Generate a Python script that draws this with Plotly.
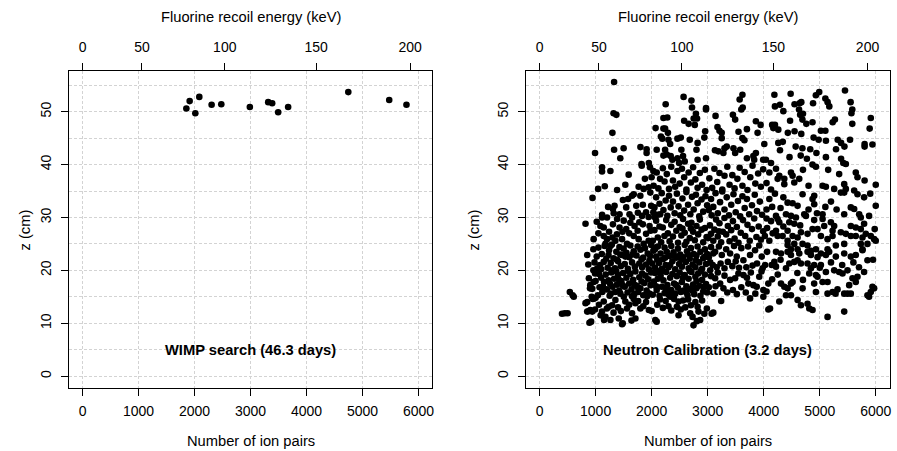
import plotly.graph_objects as go

# ---------------- data ----------------
# WIMP search candidate events (ion pairs, z cm)
wimp_ion_pairs = [1854, 1913, 2014, 2085, 2305, 2478, 2988, 3316, 3387, 3494, 3672, 4747, 5478, 5786]
wimp_z = [50.6, 52.0, 49.7, 52.8, 51.3, 51.4, 50.9, 51.8, 51.6, 49.9, 50.9, 53.7, 52.2, 51.3]

# Neutron calibration events, grouped by ion-pair range: (ion pairs, z cm)
calib_below_1000 = [
    (400, 11.8), (450, 11.9), (500, 11.9), (540, 15.9), (590, 15.3), (610, 15.0), (820, 13.8), (850, 14.0),
    (850, 12.2), (880, 12.3), (905, 12.5), (890, 10.1), (920, 10.3), (940, 12.2), (950, 14.6), (975, 14.7),
    (1000, 14.8), (930, 15.0), (990, 12.6), (905, 17.2), (965, 17.8), (880, 18.5), (900, 16.6), (940, 16.5),
    (990, 19.4), (960, 20.0), (870, 21.1), (850, 22.9), (980, 21.5), (960, 24.0), (820, 28.8), (965, 25.9),
    (945, 33.7), (990, 42.2), (1030, 20.4), (1000, 18.0),
]
calib_1000_2000 = [
    (1115, 12.2), (1175, 11.2), (1264, 10.6), (1413, 10.9), (1472, 9.8), (1234, 13.1), (1294, 13.4), (1353, 14.4),
    (1145, 14.1), (1531, 14.1), (1710, 13.8), (1798, 12.8), (1650, 11.9), (1710, 10.9), (1640, 10.5), (1060, 13.5),
    (1090, 11.5), (1200, 12.8), (1320, 12.0), (1400, 13.0), (1450, 12.3), (1560, 12.8), (1600, 13.5), (1680, 14.6),
    (1760, 14.2), (1850, 13.2), (1900, 14.0), (1950, 12.5), (1104, 11.5), (1151, 10.6), (1484, 10.0),
    (1040, 15.3), (1070, 16.8), (1100, 18.6), (1120, 15.9), (1150, 17.8), (1180, 19.2), (1200, 16.4), (1230, 18.1),
    (1250, 15.2), (1280, 19.6), (1300, 16.9), (1330, 18.4), (1350, 15.9), (1380, 17.3), (1400, 19.1), (1420, 16.2),
    (1442, 15.6), (1460, 18.0), (1490, 19.5), (1502, 15.0), (1520, 16.9), (1550, 18.6), (1570, 15.8), (1600, 17.5),
    (1620, 19.3), (1640, 16.4), (1670, 18.2), (1690, 15.5), (1710, 19.8), (1730, 17.1), (1760, 15.9), (1780, 18.7),
    (1800, 16.6), (1830, 19.4), (1850, 15.3), (1870, 17.6), (1890, 19.0), (1910, 16.2), (1940, 18.3), (1960, 15.6),
    (1980, 17.2), (1990, 19.6), (1060, 19.3), (1130, 16.9), (1260, 17.4), (1370, 19.8), (1480, 17.2), (1580, 19.9),
    (1650, 15.1), (1750, 16.8), (1820, 17.9), (1920, 15.1), (1270, 15.6), (1700, 17.2), (1410, 18.3),
    (1020, 22.6), (1050, 24.3), (1080, 21.0), (1110, 23.1), (1145, 21.6), (1160, 24.6), (1190, 22.2), (1215, 20.5),
    (1240, 23.8), (1270, 21.4), (1290, 24.9), (1320, 22.3), (1345, 20.4), (1370, 23.5), (1400, 21.7), (1425, 24.4),
    (1450, 20.8), (1470, 22.9), (1500, 24.1), (1520, 21.2), (1550, 23.3), (1575, 20.3), (1600, 22.5), (1620, 24.7),
    (1650, 21.5), (1680, 23.6), (1700, 20.7), (1730, 22.8), (1750, 24.5), (1780, 21.3), (1800, 23.9), (1830, 20.6),
    (1850, 22.4), (1880, 24.2), (1900, 21.1), (1930, 23.2), (1950, 20.2), (1975, 22.7), (1990, 24.8), (1100, 20.2),
    (1230, 22.9), (1380, 22.0), (1530, 22.6), (1660, 23.0), (1820, 22.1), (1960, 21.8), (1300, 20.0), (1440, 23.0),
    (1145, 26.5), (1204, 25.9), (1175, 25.0), (1264, 24.6), (1353, 25.6), (1472, 25.9), (1561, 25.0), (1680, 26.5),
    (1768, 25.9), (1857, 25.0), (1946, 25.6), (1086, 28.4), (1145, 28.1), (1309, 28.7), (1427, 28.1), (1546, 27.8),
    (1695, 28.4), (1843, 28.7), (1962, 28.4), (1115, 30.0), (1204, 30.0), (1383, 29.7), (1502, 29.4), (1650, 30.0),
    (1828, 30.3), (1946, 30.1), (1050, 27.0), (1240, 27.3), (1380, 26.8), (1600, 27.0), (1750, 27.5), (1900, 26.9),
    (1480, 27.3), (1300, 26.2), (1020, 29.2), (1620, 29.0), (1780, 29.1), (1980, 27.5),
    (1427, 30.6), (1605, 30.6), (1754, 30.9), (1309, 31.6), (1338, 32.2), (1487, 33.3), (1546, 31.9), (1725, 32.2),
    (1843, 32.4), (1991, 32.2), (1650, 34.1), (1680, 34.4), (1798, 34.1), (1976, 34.7), (1116, 30.5), (1223, 32.0),
    (1323, 30.8), (1900, 31.0), (1580, 33.5),
    (1045, 35.4), (1164, 35.9), (1383, 35.2), (1530, 36.2), (1768, 35.8), (1857, 35.4), (1946, 35.7), (1115, 39.5),
    (1115, 38.7), (1264, 38.8), (1590, 38.1), (1823, 39.8), (1970, 39.5), (1880, 37.3), (1999, 37.6),
    (1330, 42.8), (1500, 43.1), (1440, 41.2), (1800, 43.3), (1910, 42.9), (1910, 42.2), (1820, 40.1), (1950, 40.3),
    (1300, 46.0), (1320, 49.7), (1370, 49.4), (1330, 55.6),
]
calib_2000_3000 = [
    (2065, 10.6), (2090, 10.3), (2000, 12.3), (2332, 15.0), (2480, 14.1), (2480, 11.5), (2688, 11.9), (2836, 12.2),
    (2866, 10.6), (2747, 9.6), (2807, 10.4), (2985, 12.8), (2100, 13.5), (2150, 14.5), (2200, 12.9), (2250, 14.2),
    (2300, 13.2), (2350, 12.4), (2400, 14.6), (2450, 13.1), (2520, 12.6), (2560, 14.3), (2600, 13.0), (2650, 14.5),
    (2700, 13.4), (2730, 11.2), (2780, 14.0), (2820, 13.1), (2900, 14.3), (2940, 11.8),
    (2020, 15.4), (2040, 17.9), (2060, 19.5), (2090, 16.3), (2110, 18.4), (2140, 15.2), (2160, 19.0), (2180, 16.9),
    (2210, 18.1), (2230, 15.7), (2260, 19.7), (2280, 17.2), (2300, 15.4), (2330, 18.6), (2350, 16.3), (2370, 19.3),
    (2400, 17.5), (2420, 15.6), (2450, 18.9), (2470, 16.7), (2500, 19.6), (2520, 15.9), (2540, 17.8), (2570, 16.2),
    (2590, 19.1), (2620, 17.0), (2640, 15.3), (2660, 18.4), (2690, 16.5), (2710, 19.7), (2740, 17.3), (2760, 15.5),
    (2780, 18.8), (2800, 16.6), (2830, 19.4), (2850, 17.1), (2870, 15.2), (2900, 18.2), (2920, 16.0), (2950, 19.2),
    (2970, 17.4), (2990, 15.8), (2080, 17.0), (2200, 19.9), (2320, 16.0), (2440, 17.2), (2560, 18.6), (2680, 19.9),
    (2800, 18.0), (2930, 16.9), (2130, 19.8), (2250, 16.6), (2390, 15.1), (2610, 15.9), (2720, 16.2), (2880, 19.9),
    (2010, 21.3), (2030, 23.7), (2060, 20.5), (2080, 22.6), (2110, 24.5), (2130, 21.4), (2160, 23.2), (2180, 20.3),
    (2200, 22.1), (2230, 24.3), (2250, 21.0), (2270, 23.5), (2300, 20.6), (2320, 22.7), (2350, 24.6), (2370, 21.7),
    (2390, 23.4), (2420, 20.2), (2440, 22.4), (2470, 24.1), (2490, 21.2), (2510, 23.0), (2540, 20.7), (2560, 22.5),
    (2590, 24.8), (2610, 21.6), (2630, 23.6), (2660, 20.4), (2680, 22.2), (2700, 24.2), (2730, 21.1), (2750, 23.1),
    (2780, 20.6), (2800, 22.8), (2820, 24.5), (2850, 21.5), (2870, 23.5), (2900, 20.3), (2920, 22.3), (2950, 24.0),
    (2970, 21.2), (2990, 23.1), (2100, 22.0), (2240, 22.4), (2400, 22.8), (2530, 22.0), (2650, 23.0), (2790, 21.9),
    (2940, 22.5), (2060, 24.0), (2330, 21.0),
    (2020, 25.6), (2050, 27.6), (2080, 29.4), (2110, 26.2), (2140, 28.3), (2170, 25.3), (2199, 28.1), (2228, 26.5),
    (2260, 29.5), (2290, 27.0), (2320, 25.5), (2350, 28.6), (2380, 26.4), (2410, 29.2), (2440, 27.5), (2470, 25.2),
    (2500, 28.2), (2530, 26.6), (2560, 29.7), (2590, 27.1), (2620, 25.4), (2650, 28.8), (2680, 26.1), (2710, 29.0),
    (2740, 27.3), (2770, 25.7), (2800, 28.4), (2830, 26.8), (2860, 29.6), (2890, 27.7), (2920, 25.3), (2950, 28.0),
    (2980, 26.3), (2065, 24.3), (2153, 30.6), (2050, 30.1), (2550, 27.9), (2700, 27.9),
    (2030, 31.0), (2050, 31.9), (2080, 33.8), (2110, 30.5), (2140, 32.6), (2180, 34.6), (2210, 31.4), (2250, 33.2),
    (2280, 30.3), (2310, 34.1), (2340, 31.9), (2380, 33.0), (2410, 30.8), (2450, 34.5), (2480, 32.1), (2510, 30.4),
    (2550, 33.6), (2580, 31.3), (2620, 34.8), (2650, 32.4), (2690, 30.6), (2720, 33.9), (2750, 31.5), (2790, 34.3),
    (2820, 32.7), (2850, 30.2), (2890, 33.4), (2920, 31.1), (2960, 34.0), (2990, 32.3),
    (2035, 36.0), (2030, 38.8), (2090, 38.5), (2150, 37.3), (2120, 35.5), (2200, 39.3), (2230, 36.8), (2270, 38.2),
    (2310, 35.4), (2350, 39.6), (2380, 37.0), (2420, 35.8), (2460, 38.8), (2500, 36.4), (2540, 39.2), (2580, 37.6),
    (2620, 35.3), (2660, 38.5), (2700, 36.6), (2740, 39.5), (2780, 37.2), (2820, 35.6), (2860, 38.4), (2900, 36.2),
    (2950, 39.0), (2980, 35.2),
    (2090, 42.8), (2210, 41.7), (2240, 42.8), (2270, 41.9), (2340, 41.6), (2370, 40.9), (2460, 41.2), (2490, 40.3),
    (2530, 42.8), (2560, 41.6), (2590, 40.6), (2800, 42.8), (2820, 40.9), (2970, 41.2), (2300, 44.7), (2330, 43.9),
    (2460, 44.9), (2520, 45.1), (2680, 44.7), (2820, 44.1), (2940, 45.1), (2165, 45.3), (2190, 44.9),
    (2210, 48.8), (2070, 46.9), (2210, 46.8), (2280, 48.9), (2580, 48.3), (2660, 47.7), (2770, 47.5), (2790, 49.6),
    (2750, 48.7), (2810, 48.7), (2240, 46.8), (2290, 46.0), (2955, 46.3),
    (2250, 51.4), (2570, 52.8), (2710, 52.1), (2720, 50.8), (2970, 50.4), (2970, 50.7),
]
calib_3000_4000 = [
    (3070, 11.8), (3100, 12.0), (3240, 14.2), (3756, 14.7), (3993, 15.0),
    (3133, 18.5), (3222, 17.5), (3281, 16.6), (3400, 18.2), (3489, 18.5), (3548, 19.4), (3637, 19.1), (3726, 17.5),
    (3815, 17.2), (3875, 16.9), (3993, 16.3), (3020, 16.8), (3060, 18.9), (3100, 15.6), (3180, 19.6), (3300, 19.0),
    (3350, 15.8), (3450, 16.3), (3520, 15.5), (3600, 16.8), (3680, 15.8), (3700, 18.6), (3770, 19.6), (3850, 15.6),
    (3920, 18.8), (3960, 19.8), (3140, 17.0),
    (3133, 23.5), (3252, 22.9), (3400, 23.2), (3519, 22.6), (3637, 21.9), (3756, 22.9), (3845, 23.8), (3964, 22.6),
    (3044, 20.0), (3044, 21.5), (3020, 22.5), (3060, 24.4), (3090, 21.0), (3160, 20.6), (3200, 24.5), (3230, 21.3),
    (3300, 20.4), (3330, 24.0), (3360, 21.6), (3440, 20.8), (3470, 24.6), (3560, 20.5), (3600, 24.2), (3690, 20.6),
    (3720, 24.5), (3800, 20.9), (3880, 21.3), (3920, 24.7), (3980, 20.4), (3100, 23.2), (3500, 21.7),
    (3010, 26.1), (3040, 28.5), (3070, 30.4), (3100, 25.6), (3120, 27.7), (3150, 29.6), (3180, 26.4), (3210, 28.9),
    (3240, 25.3), (3270, 27.3), (3300, 29.9), (3330, 26.8), (3360, 28.4), (3390, 25.5), (3420, 27.6), (3450, 29.3),
    (3480, 26.0), (3520, 28.2), (3550, 25.2), (3590, 27.1), (3630, 29.5), (3670, 26.5), (3710, 28.6), (3750, 25.6),
    (3790, 27.8), (3830, 29.8), (3870, 26.3), (3910, 28.3), (3950, 25.8), (3990, 27.4), (3060, 26.9), (3200, 27.4),
    (3020, 31.4), (3060, 33.5), (3100, 32.0), (3140, 34.6), (3180, 30.8), (3220, 32.9), (3260, 34.9), (3300, 31.5),
    (3340, 33.8), (3380, 30.4), (3420, 32.4), (3460, 34.4), (3500, 31.0), (3540, 33.1), (3580, 30.2), (3620, 34.0),
    (3660, 31.8), (3700, 33.5), (3740, 30.6), (3790, 32.3), (3840, 34.3), (3880, 31.2), (3930, 33.0), (3970, 30.5),
    (3030, 37.4), (3080, 35.6), (3120, 39.2), (3170, 36.7), (3210, 38.4), (3260, 35.3), (3300, 37.9), (3350, 39.6),
    (3390, 36.2), (3440, 38.0), (3480, 35.5), (3530, 37.3), (3570, 39.4), (3620, 36.0), (3660, 38.6), (3710, 35.2),
    (3760, 37.6), (3800, 39.8), (3850, 36.4), (3900, 38.3), (3950, 35.8), (3990, 39.1),
    (3130, 42.7), (3190, 42.5), (3300, 43.1), (3280, 42.2), (3340, 43.4), (3460, 43.1), (3490, 42.2), (3580, 42.8),
    (3700, 41.2), (3815, 41.6), (3990, 40.9), (3860, 42.2), (3830, 40.9), (3620, 45.0), (3655, 44.6), (3250, 45.0),
    (3140, 49.2), (3175, 47.1), (3210, 46.4), (3250, 46.0), (3450, 49.4), (3490, 48.5), (3550, 46.2), (3700, 46.7),
    (3860, 48.2), (3945, 47.5), (3890, 46.0),
    (3620, 53.2), (3570, 52.3), (3625, 50.8), (3600, 50.4),
]
calib_4000_5000 = [
    (4278, 14.1), (4397, 15.3), (4486, 15.3), (4604, 14.4), (4664, 13.4), (4782, 13.7), (4871, 12.5), (4083, 12.6),
    (4112, 12.8), (4813, 12.8),
    (4308, 17.5), (4367, 16.9), (4426, 16.6), (4486, 17.5), (4515, 17.8), (4693, 16.6), (4931, 15.9), (4812, 19.4),
    (4931, 19.1), (4960, 18.8), (4082, 17.5), (4150, 18.3), (4250, 19.2), (4600, 19.5), (4700, 18.2), (4050, 16.0),
    (4900, 17.5),
    (4219, 23.5), (4308, 23.2), (4426, 23.5), (4486, 22.9), (4634, 23.2), (4782, 23.5), (4842, 22.9), (4189, 21.6),
    (4219, 20.7), (4397, 20.4), (4456, 21.3), (4545, 21.6), (4604, 21.9), (4664, 21.3), (4782, 21.3), (4023, 21.0),
    (4142, 21.0), (4426, 24.8), (4545, 25.0), (4604, 24.0), (4486, 24.0), (4693, 25.0), (4782, 24.7), (4842, 23.7),
    (4931, 24.0), (4300, 22.0), (4060, 23.5), (4900, 21.0), (4960, 22.5), (4842, 20.4),
    (4219, 27.5), (4248, 26.5), (4337, 26.5), (4426, 27.5), (4515, 26.5), (4604, 26.2), (4664, 27.2), (4782, 26.9),
    (4871, 27.8), (4960, 27.8), (4426, 25.6), (4219, 30.3), (4248, 29.7), (4278, 29.1), (4397, 30.6), (4486, 30.3),
    (4575, 30.0), (4723, 30.6), (4753, 30.3), (4456, 29.1), (4545, 28.8), (4020, 26.5), (4060, 28.0), (4100, 25.6),
    (4130, 29.3), (4160, 27.0), (4050, 29.8), (4900, 29.5), (4650, 28.5), (4350, 28.3),
    (4693, 34.4), (4901, 34.1), (4871, 33.5), (4901, 32.5), (4426, 32.8), (4515, 32.7), (4604, 32.2), (4050, 31.5),
    (4100, 33.5), (4150, 32.0), (4200, 34.5), (4300, 31.8), (4350, 33.8), (4800, 31.5), (4950, 30.8),
    (4219, 39.2), (4278, 37.9), (4248, 37.3), (4367, 37.3), (4367, 36.3), (4486, 38.5), (4515, 37.9), (4545, 36.6),
    (4634, 37.3), (4931, 39.6), (4050, 36.5), (4100, 38.5), (4130, 35.3), (4800, 36.0), (4700, 39.0),
    (4010, 43.9), (4040, 40.9), (4130, 40.3), (4340, 44.3), (4260, 44.1), (4290, 42.7), (4570, 43.4), (4690, 43.1),
    (4830, 42.9), (4940, 42.2), (4460, 41.4), (4660, 41.7), (4770, 41.1), (4870, 40.0), (4980, 44.7), (4890, 45.1),
    (4150, 47.5), (4170, 46.9), (4200, 47.5), (4260, 46.6), (4650, 49.4), (4690, 48.5), (4760, 47.7), (4870, 48.0),
    (4470, 48.3), (4430, 46.0), (4550, 46.3), (4670, 45.8), (4350, 50.1),
    (4190, 53.2), (4480, 53.4), (4930, 53.1), (4990, 53.7), (4290, 51.3), (4200, 51.0), (4550, 51.4), (4640, 51.6),
    (4670, 51.8), (4630, 50.4), (4700, 49.6), (4880, 51.6),
]
calib_5000_6000 = [
    (5139, 11.2), (5436, 12.2), (5282, 15.6),
    (5139, 17.8), (5050, 17.8), (5109, 19.7), (5257, 20.0), (5346, 19.7), (5406, 19.4), (5584, 18.5), (5673, 18.8),
    (5643, 17.8), (5791, 19.7), (5525, 17.2), (5495, 15.6), (5554, 15.6), (5139, 15.6), (5228, 15.9), (5317, 16.4),
    (5436, 15.6), (5910, 15.9), (5970, 16.6), (5940, 16.9), (5851, 15.3), (5880, 15.0),
    (5020, 23.2), (5109, 22.9), (5168, 23.5), (5287, 22.6), (5436, 23.2), (5554, 22.6), (5643, 22.9), (5762, 23.8),
    (5020, 21.0), (5851, 21.9), (5139, 24.0), (5287, 24.7), (5436, 25.0), (5732, 25.0), (5762, 24.0), (5851, 25.0),
    (5970, 25.9), (5000, 20.5), (5200, 21.5), (5400, 21.0), (5600, 21.5), (5700, 20.6), (5950, 22.0), (5495, 20.0),
    (5020, 26.5), (5139, 25.9), (5228, 26.5), (5198, 29.1), (5257, 28.4), (5228, 27.5), (5376, 27.2), (5465, 26.9),
    (5554, 26.5), (5643, 26.5), (5762, 26.2), (5554, 28.4), (5643, 28.1), (5732, 27.8), (5821, 26.9), (5910, 26.5),
    (5999, 25.6), (5050, 29.7), (5079, 28.4), (5791, 28.8), (5732, 30.0), (5880, 30.3), (5980, 27.8),
    (5050, 30.6), (5436, 30.6), (5554, 31.9), (5614, 31.6), (5703, 30.6), (5999, 32.2), (5614, 35.1), (5673, 34.4),
    (5791, 33.8), (5376, 34.7), (5436, 34.7), (5200, 33.0), (5100, 32.0), (5300, 31.5), (5900, 34.5),
    (5050, 36.0), (5109, 35.8), (5257, 35.4), (5346, 38.2), (5436, 36.3), (5465, 35.4), (5643, 38.5), (5673, 37.6),
    (5999, 36.2), (5465, 40.1), (5150, 39.0), (5800, 37.0),
    (5290, 42.9), (5800, 43.9), (5800, 43.4), (5940, 43.8), (5110, 41.4), (5380, 41.1), (5420, 40.3), (5110, 44.5),
    (5320, 44.7), (5380, 44.1), (5440, 43.4), (5540, 44.7),
    (5270, 48.5), (5230, 48.0), (5580, 47.7), (5910, 48.8), (5890, 46.8), (5020, 46.4), (5100, 46.4), (5565, 49.7),
    (5450, 54.0), (5100, 52.5), (5140, 51.8), (5170, 51.0), (5550, 51.8), (5580, 50.4),
]

# Axis tick values / labels
ion_ticks = [0, 1000, 2000, 3000, 4000, 5000, 6000]
z_ticks = [0, 10, 20, 30, 40, 50]
kev_labels = ["0", "50", "100", "150", "200"]
kev_positions = [0, 1060, 2540, 4172, 5852]   # ion-pair equivalent of each keV tick

calib_all = calib_below_1000 + calib_1000_2000 + calib_2000_3000 + calib_3000_4000 + calib_4000_5000 + calib_5000_6000
calib_ion_pairs = [p[0] for p in calib_all]
calib_z = [p[1] for p in calib_all]

# ---------------- figure ----------------
W, H = 897, 451
FONT = "Liberation Sans, Arial, Helvetica, sans-serif"
marker = dict(color="black", size=6.6, line=dict(width=0))

fig = go.Figure()
fig.add_trace(go.Scatter(x=wimp_ion_pairs, y=wimp_z, mode="markers", marker=marker,
                         xaxis="x", yaxis="y", showlegend=False, hoverinfo="skip"))
fig.add_trace(go.Scatter(x=calib_ion_pairs, y=calib_z, mode="markers", marker=marker,
                         xaxis="x2", yaxis="y2", showlegend=False, hoverinfo="skip"))
# bind the top (keV) axes
fig.add_trace(go.Scatter(x=kev_positions, y=[None] * len(kev_positions), mode="markers",
                         xaxis="x3", yaxis="y", showlegend=False, hoverinfo="skip"))
fig.add_trace(go.Scatter(x=kev_positions, y=[None] * len(kev_positions), mode="markers",
                         xaxis="x4", yaxis="y2", showlegend=False, hoverinfo="skip"))

xr = [-240, 6248]
yr = [-2.3, 57.75]
dom1 = [69.3 / W, 433.3 / W]
dom2 = [527.3 / W, 891.7 / W]
ydom = [1 - 388.3 / H, 1 - 70.7 / H]

grid = dict(gridcolor="#d3d3d3", griddash="3px,2px", gridwidth=1)
tickfont = dict(family=FONT, size=14, color="black")

def bottom_axis(dom, anchor):
    return dict(domain=dom, range=xr, anchor=anchor, tickvals=ion_ticks, ticks="outside", ticklen=7,
                tickcolor="black", showline=True, linecolor="black", linewidth=1, mirror=True,
                showgrid=True, zeroline=False, tickfont=tickfont, ticklabelstandoff=3, **grid)

def top_axis(over, anchor):
    return dict(overlaying=over, side="top", anchor=anchor, range=xr, tickvals=kev_positions,
                ticktext=kev_labels, ticks="outside", ticklen=7, tickcolor="black", showline=False,
                showgrid=False, zeroline=False, tickfont=tickfont, ticklabelstandoff=5)

def left_axis(anchor):
    return dict(domain=ydom, range=yr, anchor=anchor, tickvals=z_ticks, ticks="outside", ticklen=7,
                tickcolor="black", showline=True, linecolor="black", linewidth=1, mirror=True,
                showgrid=True, zeroline=False, tickangle=-90, tickfont=tickfont, ticklabelstandoff=5,
                minor=dict(dtick=5, tick0=0, showgrid=True, gridcolor="#d3d3d3", griddash="3px,2px",
                           gridwidth=1, ticks=""), **grid)

fig.update_layout(
    width=W, height=H, margin=dict(l=0, r=0, t=0, b=0),
    paper_bgcolor="white", plot_bgcolor="white",
    xaxis=bottom_axis(dom1, "y"), xaxis2=bottom_axis(dom2, "y2"),
    xaxis3=top_axis("x", "y"), xaxis4=top_axis("x2", "y2"),
    yaxis=left_axis("x"), yaxis2=left_axis("x2"),
)

title_font = dict(family=FONT, size=14.7, color="black")
annots = []
for cx, ylab_x in [((69.3 + 433.3) / 2, 25), ((527.3 + 891.7) / 2, 475)]:
    annots.append(dict(text="Number of ion pairs", x=cx / W, y=1 - 441 / H, xref="paper", yref="paper",
                       showarrow=False, font=title_font, xanchor="center", yanchor="middle"))
    annots.append(dict(text="Fluorine recoil energy (keV)", x=cx / W, y=1 - 16.7 / H, xref="paper",
                       yref="paper", showarrow=False, font=title_font, xanchor="center", yanchor="middle"))
    annots.append(dict(text="z (cm)", x=ylab_x / W, y=1 - 229.5 / H, xref="paper", yref="paper",
                       showarrow=False, font=title_font, textangle=-90, xanchor="center", yanchor="middle"))
annots.append(dict(text="<b>WIMP search (46.3 days)</b>", x=3000, y=5, xref="x", yref="y", showarrow=False,
                   font=title_font, xanchor="center", yanchor="middle"))
annots.append(dict(text="<b>Neutron Calibration (3.2 days)</b>", x=3000, y=5, xref="x2", yref="y2",
                   showarrow=False, font=title_font, xanchor="center", yanchor="middle"))
fig.update_layout(annotations=annots)

fig.write_html("out.html", config={"displayModeBar": False},
               post_script="document.body.style.margin='0px';document.body.style.overflow='hidden';")
